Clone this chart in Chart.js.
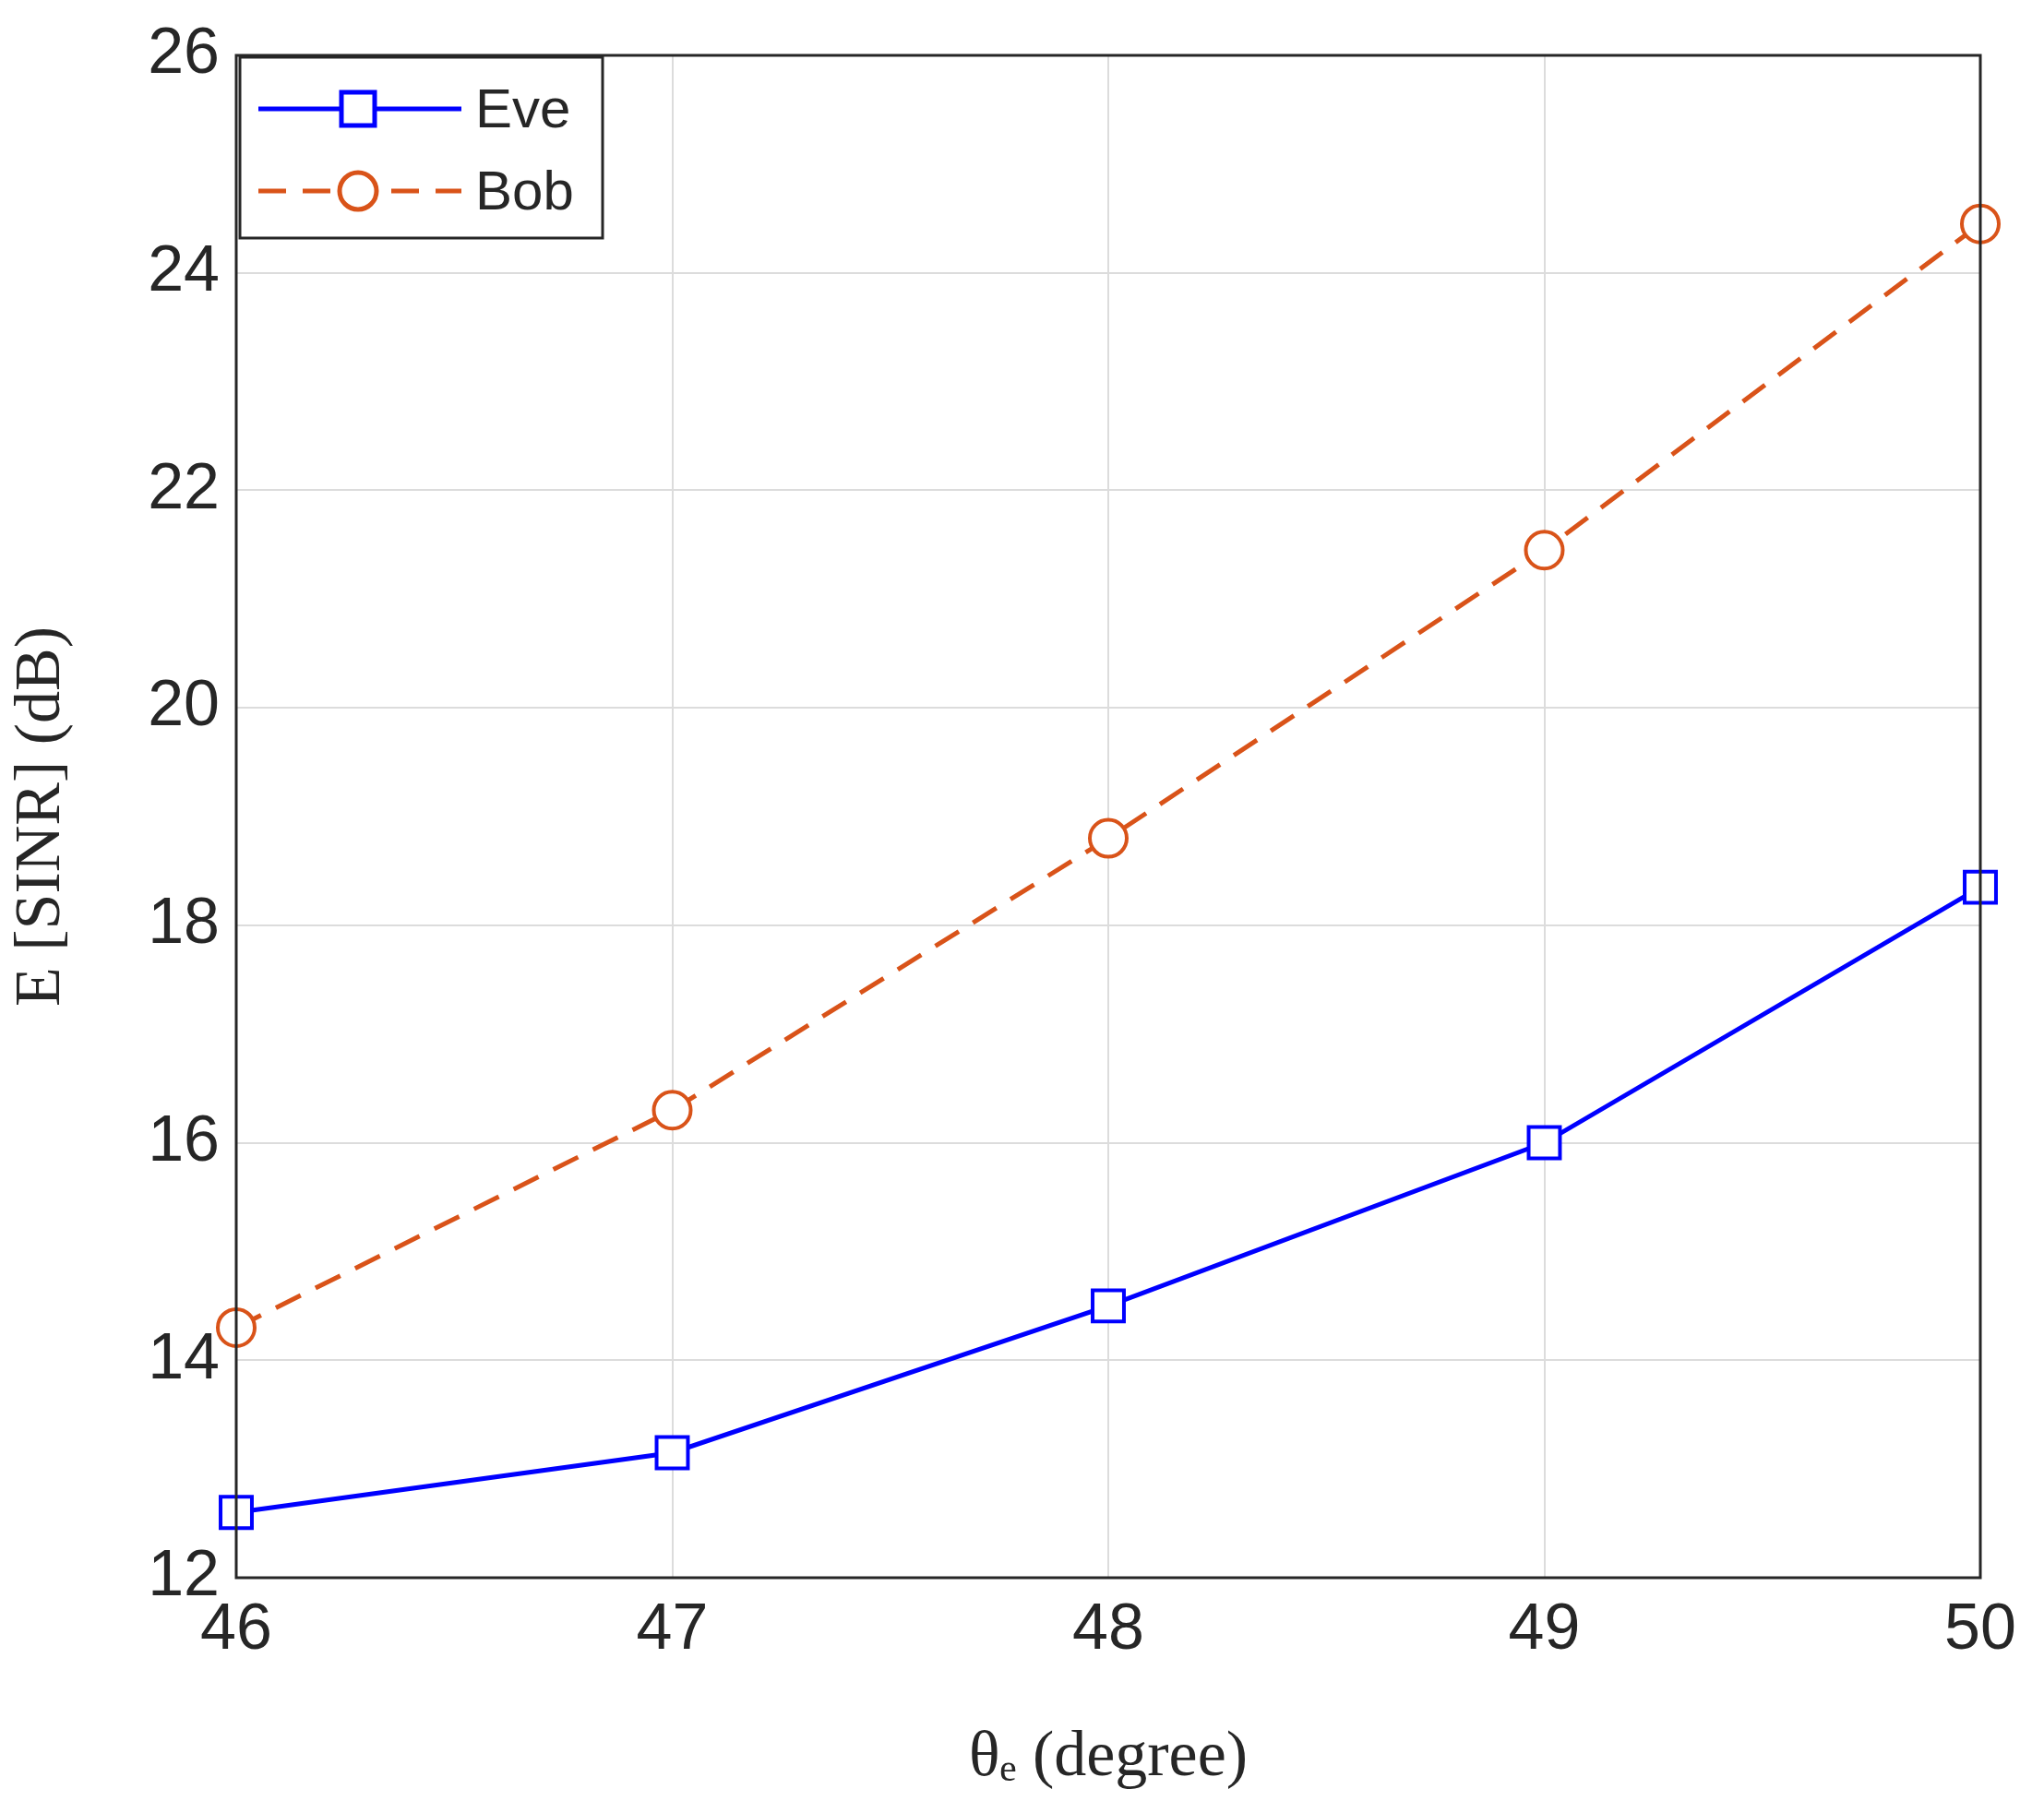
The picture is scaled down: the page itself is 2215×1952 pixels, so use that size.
<!DOCTYPE html>
<html>
<head>
<meta charset="utf-8">
<script src="https://cdn.jsdelivr.net/npm/chart.js@4"></script>
<style>
html,body{margin:0;padding:0;background:#fff;}
#wrap{width:2215px;height:1952px;}
</style>
</head>
<body>
<div id="wrap"><canvas id="canvas" width="2215" height="1952"></canvas></div>
<script>
var angles = [46, 47, 48, 49, 50];
var eve = [12.6, 13.15, 14.5, 16.0, 18.35];
var bob = [14.3, 16.3, 18.8, 21.45, 24.45];

var blue = '#0000ff';
var orange = '#d95319';

// box around the plot area + legend in the top-left corner
var boxPlugin = {
    id: 'box',
    afterDraw: function(chart){
        var ctx = chart.ctx, a = chart.chartArea;
        ctx.save();
        ctx.strokeStyle = '#262626';
        ctx.lineWidth = 3;
        ctx.strokeRect(a.left, a.top, a.right - a.left, a.bottom - a.top);

        var lx = a.left + 4, ly = a.top + 2, lw = 393, lh = 196;
        ctx.fillStyle = '#fff';
        ctx.fillRect(lx, ly, lw, lh);
        ctx.strokeRect(lx, ly, lw, lh);

        var items = [
            {label: 'Eve', color: blue, dash: [], shape: 'rect', y: ly + 56},
            {label: 'Bob', color: orange, dash: [30, 18], shape: 'circle', y: ly + 145}
        ];
        items.forEach(function(it){
            ctx.strokeStyle = it.color;
            ctx.lineWidth = 5;
            ctx.setLineDash(it.dash);
            ctx.beginPath();
            ctx.moveTo(lx + 20, it.y);
            ctx.lineTo(lx + 240, it.y);
            ctx.stroke();
            ctx.setLineDash([]);
            ctx.fillStyle = '#fff';
            ctx.beginPath();
            if(it.shape == 'rect'){
                ctx.rect(lx + 110, it.y - 18, 36, 36);
            } else {
                ctx.arc(lx + 128, it.y, 20, 0, Math.PI * 2);
            }
            ctx.fill();
            ctx.stroke();
            ctx.fillStyle = '#262626';
            ctx.font = '60px "Liberation Sans", Arial, sans-serif';
            ctx.textBaseline = 'middle';
            ctx.fillText(it.label, lx + 255, it.y + 3);
        });
        ctx.restore();
    }
};

var ctx = document.getElementById('canvas').getContext('2d');
var myChart = new Chart(ctx, {
    type: 'line',
    data: {
        datasets: [{
            label: 'Eve',
            data: angles.map(function(x, i){ return {x: x, y: eve[i]}; }),
            borderColor: blue,
            backgroundColor: '#fff',
            borderWidth: 5,
            pointStyle: 'rect',
            pointRadius: 24,
            pointBorderWidth: 4
        }, {
            label: 'Bob',
            data: angles.map(function(x, i){ return {x: x, y: bob[i]}; }),
            borderColor: orange,
            backgroundColor: '#fff',
            borderWidth: 5,
            borderDash: [30, 18],
            pointStyle: 'circle',
            pointRadius: 20,
            pointBorderWidth: 4
        }]
    },
    options: {
        responsive: false,
        animation: false,
        clip: false,
        elements: { line: { tension: 0 } },
        layout: { padding: { top: 48, right: 69, left: 0, bottom: 0 } },
        plugins: { legend: { display: false }, tooltip: { enabled: false } },
        scales: {
            x: {
                type: 'linear', min: 46, max: 50,
                ticks: { stepSize: 1, color: '#262626', padding: 16,
                    font: { size: 70, family: '"Liberation Sans", Arial, sans-serif' } },
                grid: { color: '#dcdcdc', lineWidth: 2, drawTicks: false },
                border: { display: false },
                title: { display: true, text: 'θₑ (degree)', color: '#262626', padding: { top: -20 },
                    font: { size: 70, family: '"Liberation Serif", "DejaVu Serif", serif' } },
                afterFit: function(s){ s.height = 242; }
            },
            y: {
                min: 12, max: 26,
                ticks: { stepSize: 2, color: '#262626', padding: 18,
                    font: { size: 70, family: '"Liberation Sans", Arial, sans-serif' } },
                grid: { color: '#dcdcdc', lineWidth: 2, drawTicks: false },
                border: { display: false },
                title: { display: true, text: 'E [SINR] (dB)', color: '#262626',
                    font: { size: 70, family: '"Liberation Serif", "DejaVu Serif", serif' } },
                afterFit: function(s){ s.width = 256; }
            }
        }
    },
    plugins: [boxPlugin]
});
</script>
</body>
</html>
